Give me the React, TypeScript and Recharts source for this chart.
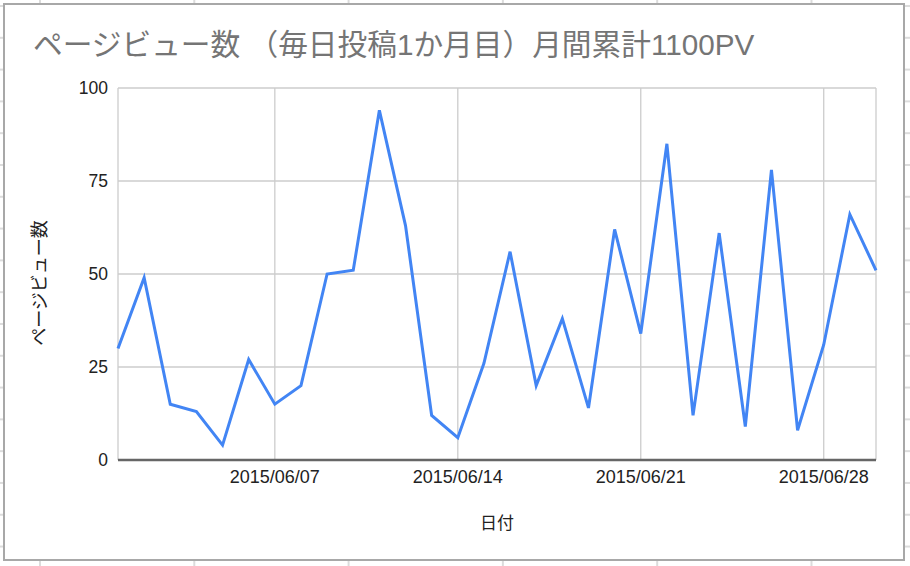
import React from 'react';
import { LineChart, Line, XAxis, YAxis, CartesianGrid, Label } from 'recharts';

const dates = [
    '2015/06/01', '2015/06/02', '2015/06/03', '2015/06/04', '2015/06/05',
    '2015/06/06', '2015/06/07', '2015/06/08', '2015/06/09', '2015/06/10',
    '2015/06/11', '2015/06/12', '2015/06/13', '2015/06/14', '2015/06/15',
    '2015/06/16', '2015/06/17', '2015/06/18', '2015/06/19', '2015/06/20',
    '2015/06/21', '2015/06/22', '2015/06/23', '2015/06/24', '2015/06/25',
    '2015/06/26', '2015/06/27', '2015/06/28', '2015/06/29', '2015/06/30',
];

// daily page views
const pageViews = [
    30, 49, 15, 13, 4, 27, 15, 20, 50, 51,
    94, 63, 12, 6, 26, 56, 20, 38, 14, 62,
    34, 85, 12, 61, 9, 78, 8, 31, 66, 51,
];

const xTicks = ['2015/06/07', '2015/06/14', '2015/06/21', '2015/06/28'];
const yTicks = [0, 25, 50, 75, 100];

const TITLE = 'ページビュー数 （毎日投稿1か月目）月間累計1100PV';
const Y_TITLE = 'ページビュー数';
const X_TITLE = '日付';

const FONT = "'Liberation Sans', Arial, 'Noto Sans CJK JP', sans-serif";

const data = dates.map((date, i) => ({ date, views: pageViews[i] }));

export default function App() {
    return (
        <div
            style={{
                position: 'absolute',
                left: 0,
                top: 0,
                width: 910,
                height: 566,
                overflow: 'hidden',
                backgroundColor: '#fff',
                backgroundImage:
                    'linear-gradient(to right, #dcdcdc 2px, transparent 2px), linear-gradient(to bottom, #dcdcdc 2px, transparent 2px)',
                backgroundSize: '154.3px 100%, 100% 31.8px',
                backgroundPosition: '39px 0, 0 5px',
                fontFamily: FONT,
            }}
        >
            {/* chart frame */}
            <div
                style={{
                    position: 'absolute',
                    left: 3,
                    top: 3,
                    width: 898,
                    height: 554,
                    border: '2px solid #a8a8a8',
                    background: '#fff',
                }}
            />
            <div
                style={{
                    position: 'absolute',
                    left: 33,
                    top: 30,
                    fontSize: 29.7,
                    lineHeight: '29px',
                    color: '#757575',
                    whiteSpace: 'nowrap',
                }}
            >
                {TITLE}
            </div>
            <div style={{ position: 'absolute', left: 0, top: 0 }}>
                <LineChart
                    width={910}
                    height={566}
                    data={data}
                    margin={{ top: 88, right: 34, bottom: 76, left: 0 }}
                >
                    <CartesianGrid stroke="#cccccc" strokeWidth={1.3} />
                    <XAxis
                        dataKey="date"
                        height={30}
                        ticks={xTicks}
                        interval={0}
                        tickLine={false}
                        tickSize={0}
                        tickMargin={10}
                        axisLine={{ stroke: '#666666', strokeWidth: 2.5 }}
                        tick={{ fill: '#222222', fontSize: 18, fontFamily: FONT }}
                    >
                        <Label
                            content={() => (
                                <text
                                    x={497}
                                    y={529}
                                    textAnchor="middle"
                                    fill="#222222"
                                    fontSize={17}
                                    fontFamily={FONT}
                                >
                                    {X_TITLE}
                                </text>
                            )}
                        />
                    </XAxis>
                    <YAxis
                        width={118}
                        domain={[0, 100]}
                        ticks={yTicks}
                        interval={0}
                        axisLine={false}
                        tickLine={false}
                        tickSize={0}
                        tickMargin={10}
                        tick={{ fill: '#222222', fontSize: 17.5, fontFamily: FONT }}
                    >
                        <Label
                            content={() => (
                                <text
                                    x={46}
                                    y={283}
                                    transform="rotate(-90 46 283)"
                                    textAnchor="middle"
                                    fill="#222222"
                                    fontSize={18}
                                    fontFamily={FONT}
                                >
                                    {Y_TITLE}
                                </text>
                            )}
                        />
                    </YAxis>
                    <Line
                        type="linear"
                        dataKey="views"
                        stroke="#4285f4"
                        strokeWidth={3}
                        dot={false}
                        activeDot={false}
                        isAnimationActive={false}
                    />
                </LineChart>
            </div>
        </div>
    );
}
